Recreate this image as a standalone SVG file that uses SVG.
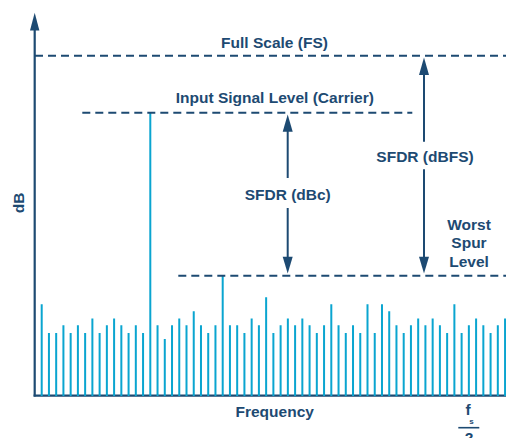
<svg xmlns="http://www.w3.org/2000/svg" width="506" height="438" viewBox="0 0 506 438">
<style>
.t{font-family:"Liberation Sans",Arial,sans-serif;font-weight:bold;font-size:15.5px;fill:#1d4a72;text-anchor:middle}
.ax{stroke:#1d4a72;stroke-width:2.2;fill:none}
.dash{stroke:#1d4a72;stroke-width:2;stroke-dasharray:8 5;fill:none}
.arr{stroke:#1d4a72;stroke-width:2;fill:none}
.head{fill:#1d4a72}
.bar{stroke:#0aa5d0;stroke-width:2;fill:none}
</style>
<rect width="506" height="438" fill="#fff"/>
<g id="axes">
<line class="ax" x1="34.7" y1="28" x2="34.7" y2="396.5"/>
<polygon class="head" points="34.7,12.7 30,30.5 39.4,30.5"/>
<line class="ax" x1="33.6" y1="395.7" x2="506" y2="395.7"/>
<text class="t" transform="translate(23.5,203) rotate(-90)">dB</text>
<text class="t" x="274.7" y="416.5">Frequency</text>
</g>
<g id="fs-label">
<text class="t" x="468" y="415">f</text>
<text class="t" x="471.5" y="423.5" style="font-size:8px">s</text>
<line x1="458.3" y1="427.7" x2="479.3" y2="427.7" stroke="#1d4a72" stroke-width="1.6"/>
<text class="t" x="469" y="442.8">2</text>
</g>
<g id="spectrum">
<path class="bar" d="M41.7 396V304.3M48.94 396V333M56.18 396V333M63.42 396V325.3M70.66 396V333M77.9 396V325.3M85.14 396V333M92.38 396V318.5M99.62 396V333M106.86 396V325.3M114.1 396V318.5M121.34 396V325.3M128.58 396V333M135.82 396V325.3M143.06 396V333M150.3 396V112.7M157.54 396V325.3M164.78 396V339M172.02 396V325.3M179.26 396V318.5M186.5 396V325.3M193.74 396V311.3M200.98 396V325.3M208.22 396V333M215.46 396V325.3M222.7 396V275.7M229.94 396V325.3M237.18 396V325.3M244.42 396V333M251.66 396V318.5M258.9 396V325.3M266.14 396V297.3M273.38 396V333M280.62 396V325.3M287.86 396V318.5M295.1 396V325.3M302.34 396V318.5M309.58 396V325.3M316.82 396V333M324.06 396V325.3M331.3 396V304.3M338.54 396V325.3M345.78 396V333M353.02 396V325.3M360.26 396V333M367.5 396V304.3M374.74 396V333M381.98 396V304.3M389.22 396V311.3M396.46 396V325.3M403.7 396V333M410.94 396V325.3M418.18 396V318.5M425.42 396V325.3M432.66 396V318.5M439.9 396V325.3M447.14 396V333M454.38 396V304.3M461.62 396V333M468.86 396V325.3M476.1 396V318.5M483.34 396V325.3M490.58 396V333M497.82 396V325.3M505.06 396V318.5"/>
</g>
<g id="full-scale">
<line class="dash" x1="35" y1="55.7" x2="506" y2="55.7"/>
<text class="t" x="274.5" y="48">Full Scale (FS)</text>
</g>
<g id="carrier-level">
<line class="dash" x1="82.3" y1="112.7" x2="412.3" y2="112.7"/>
<text class="t" x="274.8" y="103">Input Signal Level (Carrier)</text>
</g>
<g id="worst-spur">
<line class="dash" x1="178.3" y1="275.7" x2="506" y2="275.7"/>
<text class="t" x="469" y="229.5">Worst</text>
<text class="t" x="469" y="248">Spur</text>
<text class="t" x="469" y="266.5">Level</text>
</g>
<g id="connectors">
<g id="sfdr-dbc">
<line class="arr" x1="287.7" y1="130" x2="287.7" y2="178"/>
<line class="arr" x1="287.7" y1="208" x2="287.7" y2="258"/>
<polygon class="head" points="287.7,114.5 282.7,131.7 292.7,131.7"/>
<polygon class="head" points="287.7,273.5 282.7,256.7 292.7,256.7"/>
<text class="t" x="287.7" y="200">SFDR (dBc)</text>
</g>
<g id="sfdr-dbfs">
<line class="arr" x1="424" y1="74" x2="424" y2="141.7"/>
<line class="arr" x1="424" y1="169.3" x2="424" y2="258"/>
<polygon class="head" points="424,57.5 419,75 429,75"/>
<polygon class="head" points="424,273.5 419,256.7 429,256.7"/>
<text class="t" x="425" y="161.5">SFDR (dBFS)</text>
</g>
</g>
</svg>
